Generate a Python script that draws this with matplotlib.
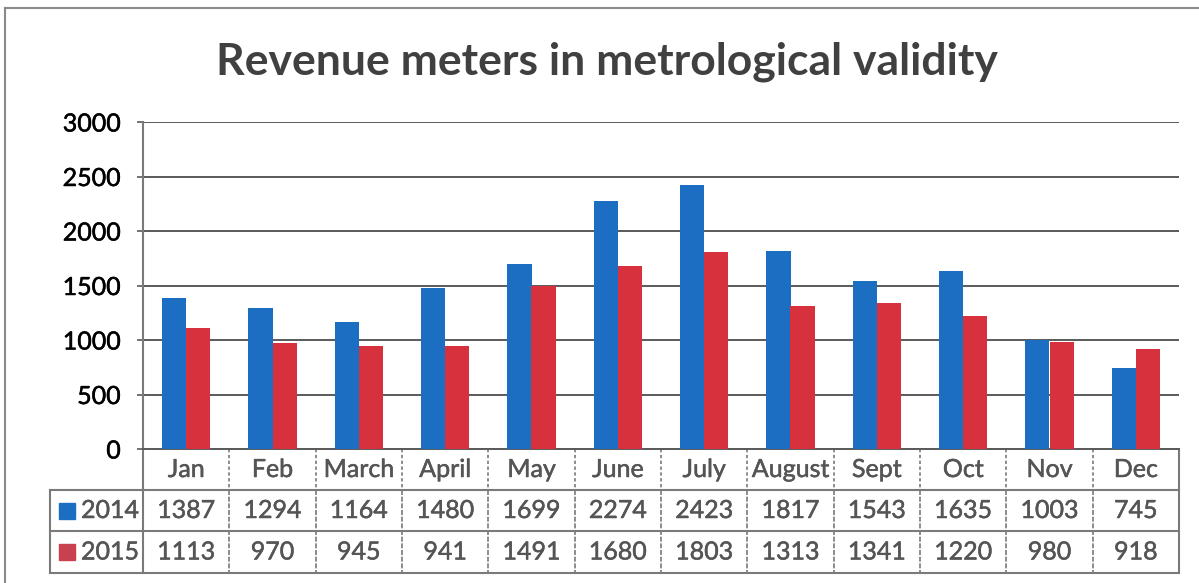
import numpy as np
import matplotlib
matplotlib.use("Agg")
import matplotlib.pyplot as plt
import matplotlib.transforms as mtransforms
import matplotlib.patheffects as pe
from matplotlib.patches import Rectangle

# ============================================================================
# DATA
# ============================================================================
MONTHS = ['Jan', 'Feb', 'March', 'April', 'May', 'June', 'July',
          'August', 'Sept', 'Oct', 'Nov', 'Dec']
SERIES_NAMES = ['2014', '2015']
VALUES_2014 = [1387, 1294, 1164, 1480, 1699, 2274, 2423, 1817, 1543, 1635, 1003, 745]
VALUES_2015 = [1113, 970, 945, 941, 1491, 1680, 1803, 1313, 1341, 1220, 980, 918]
Y_TICKS = [0, 500, 1000, 1500, 2000, 2500, 3000]
TITLE = 'Revenue meters in metrological validity'

# ============================================================================
# STYLE
# ============================================================================
W, H = 1199, 583
BLUE = '#1c6ec2'
RED = '#d7313e'
GRID = '#5a5a5a'
TABLE_LINE = '#7a7a7a'
TEXT_GRAY = '#555555'
FONT = 'Lato'
FS = 18

plt.rcParams['font.family'] = [FONT, 'DejaVu Sans']

# scanned text looks a bit heavier than Lato regular
def heavy(color):
    return [pe.withStroke(linewidth=0.35, foreground=color)]

fig = plt.figure(figsize=(W / 100, H / 100), dpi=100)
fig.patch.set_facecolor('white')

# plot area in pixels
left_px, right_px, top_px, bot_px = 143, 1179, 122, 449
ax = fig.add_axes([left_px / W, 1 - bot_px / H,
                   (right_px - left_px) / W, (bot_px - top_px) / H])

x = np.arange(len(MONTHS))
bw = 0.28
ax.bar(x - bw / 2, VALUES_2014, bw, color=BLUE, zorder=3, linewidth=0)
ax.bar(x + bw / 2, VALUES_2015, bw, color=RED, zorder=3, linewidth=0)

ax.set_xlim(-0.5, len(MONTHS) - 0.5)
ax.set_ylim(0, 3000)
ax.set_yticks(Y_TICKS)
ax.set_yticklabels([str(t) for t in Y_TICKS], fontsize=FS, color='black')
for lbl in ax.get_yticklabels():
    lbl.set_path_effects(heavy('black'))
ax.tick_params(axis='y', length=4, color=GRID, pad=12, width=1.2)
ax.set_xticks([])
ax.yaxis.grid(True, color=GRID, linewidth=1.4, zorder=0)
for s in ['top', 'right']:
    ax.spines[s].set_visible(False)
ax.spines['left'].set_color(TABLE_LINE)
ax.spines['left'].set_linewidth(1.5)
ax.spines['bottom'].set_color(GRID)
ax.spines['bottom'].set_linewidth(1.4)

# ============================================================================
# DATA TABLE UNDER THE AXIS
# ============================================================================
trans = mtransforms.blended_transform_factory(ax.transData, ax.transAxes)
ax_h = bot_px - top_px
col_w = (right_px - left_px) / len(MONTHS)

def yfrac(py):
    return (bot_px - py) / ax_h

def xdata(px):
    return (px - left_px) / col_w - 0.5

row_edges = [yfrac(449), yfrac(490), yfrac(531), yfrac(573)]
legend_left = xdata(50)

# header row: month names, dotted separators
for i, m in enumerate(MONTHS):
    ax.text(i, (row_edges[0] + row_edges[1]) / 2, m, transform=trans,
            ha='center', va='center', fontsize=FS, color=TEXT_GRAY, clip_on=False,
            path_effects=heavy(TEXT_GRAY))
for i in range(len(MONTHS) - 1):
    ax.plot([i + 0.5, i + 0.5], [row_edges[0], row_edges[1]], transform=trans,
            color=TABLE_LINE, lw=1.2, ls=(0, (2, 1.5)), clip_on=False)
for xe in [-0.5, len(MONTHS) - 0.5]:
    ax.plot([xe, xe], [row_edges[0], row_edges[3]], transform=trans,
            color=TABLE_LINE, lw=1.5, clip_on=False)

# value rows
legend_cols = [BLUE, '#c9404e']
for r, (name, vals, col) in enumerate(zip(SERIES_NAMES, [VALUES_2014, VALUES_2015], legend_cols)):
    yc = (row_edges[r + 1] + row_edges[r + 2]) / 2
    for i, v in enumerate(vals):
        ax.text(i, yc, str(v), transform=trans, ha='center', va='center',
                fontsize=FS, color=TEXT_GRAY, clip_on=False,
                path_effects=heavy(TEXT_GRAY))
    sq_h = 16 / ax_h
    ax.add_patch(Rectangle((xdata(59), yc - sq_h / 2), xdata(75) - xdata(59), sq_h,
                           transform=trans, color=col, clip_on=False))
    ax.text(xdata(81), yc, name, transform=trans, ha='left', va='center',
            fontsize=FS, color=TEXT_GRAY, clip_on=False,
            path_effects=heavy(TEXT_GRAY))

for i in range(len(MONTHS) - 1):
    ax.plot([i + 0.5, i + 0.5], [row_edges[1], row_edges[3]], transform=trans,
            color=TABLE_LINE, lw=1.2, ls=(0, (3, 1)), clip_on=False)
for ye in row_edges[1:]:
    ax.plot([legend_left, len(MONTHS) - 0.5], [ye, ye], transform=trans,
            color=TABLE_LINE, lw=1.5, clip_on=False)
ax.plot([legend_left, legend_left], [row_edges[1], row_edges[3]], transform=trans,
        color=TABLE_LINE, lw=1.5, clip_on=False)

# title
fig.text(607 / W, 1 - 62 / H, TITLE, ha='center', va='center', fontsize=32,
         fontweight='bold', color='#404040')

# outer frame of the scanned chart (left and top edges)
fig.add_artist(plt.Line2D([5 / W, 5 / W], [0, 1 - 8 / H], color='#8a8a8a', lw=1.5))
fig.add_artist(plt.Line2D([5 / W, 1], [1 - 8 / H, 1 - 8 / H], color='#8a8a8a', lw=1.5))

fig.savefig('out.png', dpi=100, facecolor='white')
